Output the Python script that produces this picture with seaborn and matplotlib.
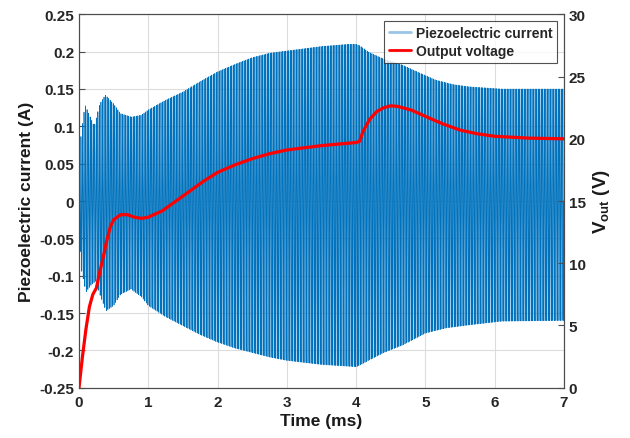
import numpy as np
import pandas as pd
import matplotlib
matplotlib.use("Agg")
import matplotlib.pyplot as plt
import seaborn as sns
from matplotlib.lines import Line2D

# ---- data ----
# envelope of the piezoelectric current (A)
env_t = [0.0, 0.03, 0.087, 0.15, 0.22, 0.30, 0.38, 0.50, 0.60, 0.76, 0.90, 1.0, 1.25,
         1.5, 1.75, 2.0, 2.25, 2.5, 2.75, 3.0, 3.5, 3.9, 4.0, 4.05, 4.19, 4.4, 4.67,
         5.0, 5.15, 5.4, 5.63, 6.1, 7.0]
env_upper = [0.04, 0.09, 0.129, 0.115, 0.100, 0.130, 0.142, 0.130, 0.117, 0.1125, 0.115,
             0.122, 0.135, 0.146, 0.160, 0.173, 0.183, 0.192, 0.198, 0.201, 0.207, 0.210,
             0.210, 0.208, 0.199, 0.190, 0.182, 0.168, 0.162, 0.156, 0.153, 0.150, 0.150]
env_t_lo = [0.0, 0.03, 0.10, 0.17, 0.245, 0.30, 0.39, 0.50, 0.60, 0.75, 0.90, 1.0, 1.25,
            1.5, 1.75, 2.0, 2.25, 2.5, 2.75, 3.0, 3.5, 4.0, 4.05, 4.19, 4.4, 4.67, 5.0,
            5.3, 5.63, 6.1, 7.0]
env_lower = [-0.04, -0.09, -0.122, -0.113, -0.107, -0.125, -0.147, -0.140, -0.125, -0.118,
             -0.128, -0.140, -0.155, -0.167, -0.179, -0.189, -0.197, -0.203, -0.209, -0.2135,
             -0.219, -0.222, -0.220, -0.213, -0.203, -0.193, -0.177, -0.170, -0.166, -0.161,
             -0.160]
carrier_khz = 45.0  # oscillation frequency of the current

# output voltage (V)
v_t = [0.0, 0.05, 0.10, 0.15, 0.20, 0.25, 0.30, 0.35, 0.40, 0.45, 0.50, 0.60, 0.70, 0.80,
       0.90, 1.0, 1.2, 1.4, 1.6, 1.8, 2.0, 2.25, 2.5, 2.75, 3.0, 3.5, 4.0, 4.05, 4.1, 4.2,
       4.3, 4.4, 4.5, 4.6, 4.8, 5.0, 5.25, 5.5, 5.75, 6.0, 6.5, 7.0]
v_out = [0.0, 2.5, 4.7, 6.5, 7.5, 8.0, 9.3, 10.5, 11.8, 12.9, 13.5, 13.9, 13.9, 13.7,
         13.6, 13.7, 14.2, 15.0, 15.8, 16.6, 17.3, 17.9, 18.4, 18.8, 19.1, 19.45, 19.7,
         19.8, 20.6, 21.6, 22.2, 22.5, 22.65, 22.6, 22.3, 21.8, 21.2, 20.7, 20.4, 20.2,
         20.05, 20.0]

x_ticks = [0, 1, 2, 3, 4, 5, 6, 7]
left_ticks = [-0.25, -0.2, -0.15, -0.1, -0.05, 0, 0.05, 0.1, 0.15, 0.2, 0.25]
left_labels = ["-0.25", "-0.2", "-0.15", "-0.1", "-0.05", "0", "0.05", "0.1", "0.15", "0.2", "0.25"]
right_ticks = [0, 5, 10, 15, 20, 25, 30]

# ---- build current waveform from envelope ----
t = np.linspace(0, 7, int(7 * carrier_khz * 20) + 1)
up = np.interp(t, env_t, env_upper)
lo = np.interp(t, env_t_lo, env_lower)
s = np.sin(2 * np.pi * carrier_khz * t)
cur = np.where(s >= 0, s * up, -s * lo)
df_i = pd.DataFrame({"t": t, "i": cur})
df_v = pd.DataFrame({"t": v_t, "v": v_out})

# ---- style ----
sns.set_theme(style="white")
plt.rcParams["font.family"] = ["Liberation Sans", "DejaVu Sans"]
plt.rcParams["font.weight"] = "bold"
plt.rcParams["mathtext.fontset"] = "custom"
plt.rcParams["mathtext.rm"] = "Liberation Sans:bold"
plt.rcParams["mathtext.bf"] = "Liberation Sans:bold"
plt.rcParams["mathtext.default"] = "bf"

fig = plt.figure(figsize=(6.3, 4.39), dpi=100)
ax = fig.add_axes([0.1254, 0.1146, 0.7698, 0.8505])
ax2 = ax.twinx()

blue = "#0072BD"
sns.lineplot(data=df_i, x="t", y="i", ax=ax, color=blue, linewidth=0.5,
             estimator=None, sort=False, legend=False)
sns.lineplot(data=df_v, x="t", y="v", ax=ax2, color="red", linewidth=2.3,
             estimator=None, sort=False, legend=False)

ax.set_xlim(0, 7)
ax.set_ylim(-0.25, 0.25)
ax2.set_ylim(0, 30)
ax.set_xticks(x_ticks)
ax.set_yticks(left_ticks)
ax.set_yticklabels(left_labels)
ax2.set_yticks(right_ticks)

ax.grid(True, color="#dcdcdc", linewidth=0.8)
ax.set_axisbelow(True)

tick_col = "#262626"
for a in (ax, ax2):
    for sp in a.spines.values():
        sp.set_color("#4d4d4d")
        sp.set_linewidth(0.8)
    a.tick_params(direction="in", length=4, width=0.8, colors="#4d4d4d",
                  labelcolor=tick_col, labelsize=11)
ax.tick_params(axis="x", pad=5)
for lab in ax.get_xticklabels() + ax.get_yticklabels() + ax2.get_yticklabels():
    lab.set_fontweight("bold")

ax.set_xlabel("Time (ms)", fontsize=12.5, fontweight="bold", color="#1a1a1a", labelpad=3)
ax.set_ylabel("Piezoelectric current (A)", fontsize=12.5, fontweight="bold", color="#1a1a1a", labelpad=4)
ax2.set_ylabel("V$_{out}$ (V)", fontsize=13.5, fontweight="bold", color="#1a1a1a",
               rotation=90, labelpad=4)

handles = [Line2D([], [], color="#9ac5e8", linewidth=2.0),
           Line2D([], [], color="red", linewidth=2.0)]
leg = ax2.legend(handles, ["Piezoelectric current", "Output voltage"], loc="upper right",
                 fontsize=10, frameon=True, fancybox=False, borderaxespad=0.5,
                 handlelength=1.6, handletextpad=0.3, borderpad=0.35, labelspacing=0.3)
leg.get_frame().set_edgecolor("#262626")
leg.get_frame().set_linewidth(0.8)
for txt in leg.get_texts():
    txt.set_fontweight("bold")

fig.savefig("out.png", dpi=100)
